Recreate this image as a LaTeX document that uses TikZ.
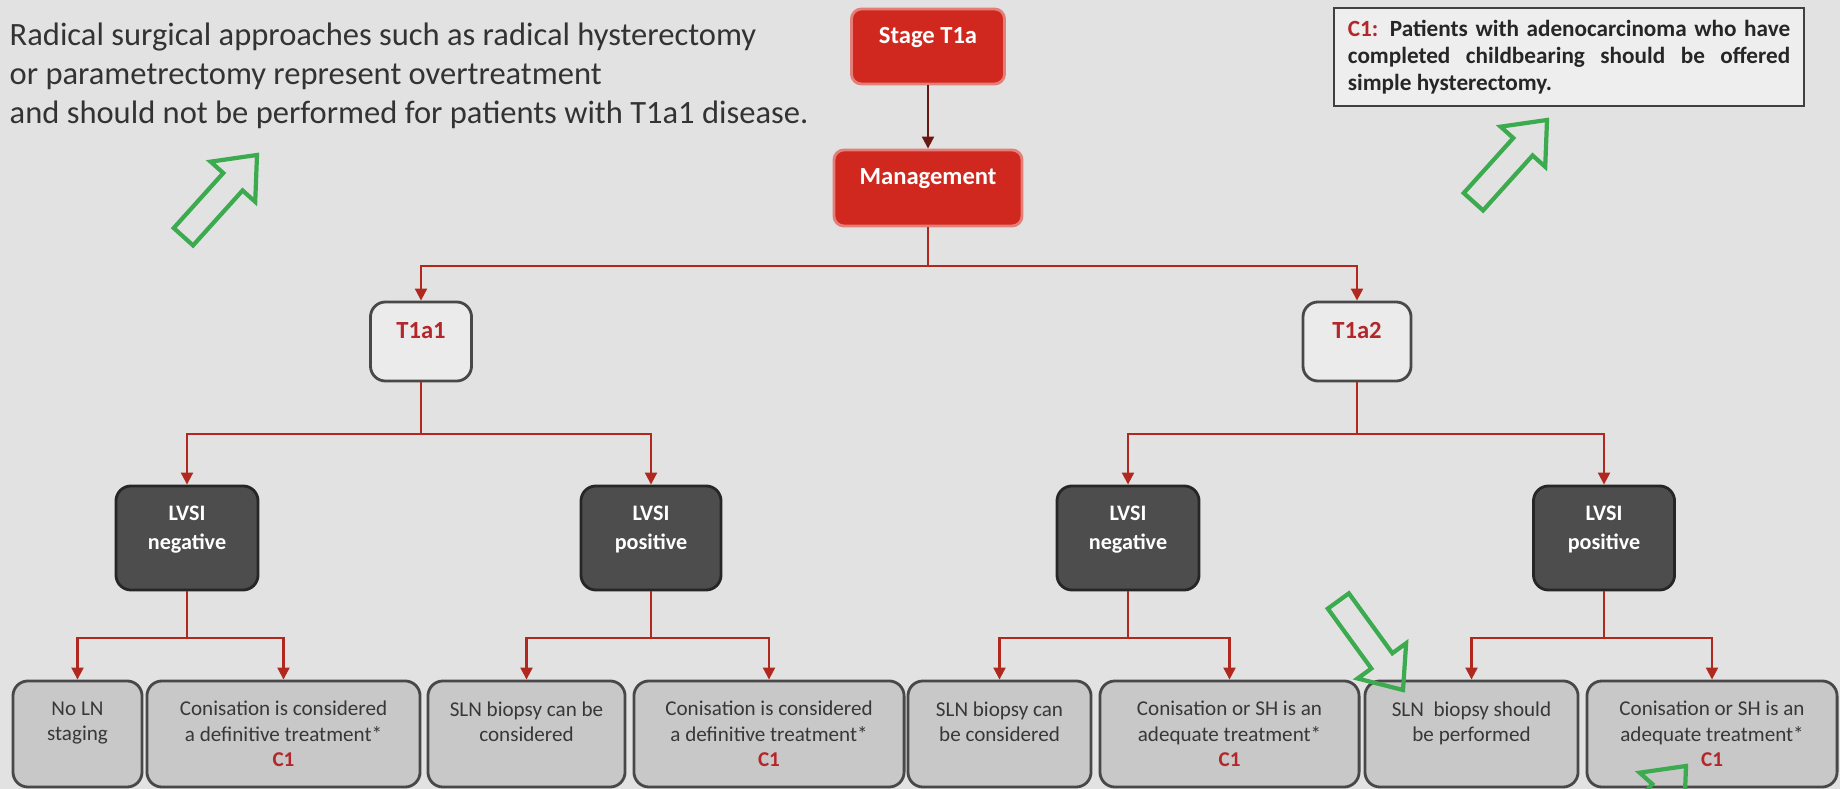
\documentclass[tikz,border=0pt]{standalone}
\usepackage{fontspec}
\setmainfont{Carlito}
\usepackage{xcolor}
\usetikzlibrary{arrows.meta}

\definecolor{slidebg}{HTML}{E2E2E2}
\definecolor{stagered}{HTML}{D0281E}
\definecolor{linkred}{HTML}{B0281E}
\definecolor{labelred}{HTML}{B3262A}
\definecolor{lvsigray}{HTML}{4D4D4D}
\definecolor{optiongray}{HTML}{C8C8C8}
\definecolor{edgegray}{HTML}{484848}
\definecolor{textgray}{HTML}{383838}
\definecolor{markgreen}{HTML}{3CAA4E}

\tikzset{
  hollowarrow/.pic={
    \draw[markgreen, line width=1.2pt, line join=miter]
      (0,0) -- (-36,30) -- (-36,13) -- (-110,13) -- (-110,-13) -- (-36,-13) -- (-36,-30) -- cycle;
  }
}

\begin{document}
\begin{tikzpicture}[x=0.01cm, y=-0.01cm,
  box/.style={rounded corners=0.15cm, inner sep=0pt, align=center, line width=0.8pt},
  stagebox/.style={box, rounded corners=0.1cm, fill=stagered, draw=stagered!60!white, text=white,
    font=\fontsize{7}{8.4}\selectfont\bfseries, text depth=6.5pt},
  substagebox/.style={box, fill=slidebg!70!white, draw=edgegray, text=labelred,
    font=\fontsize{7}{8.4}\selectfont\bfseries, text depth=6.5pt},
  lvsibox/.style={box, fill=lvsigray, draw=black!85, text=white,
    font=\fontsize{6.3}{8.2}\selectfont\bfseries, text depth=5.8pt, minimum height=1.04cm},
  optionbox/.style={box, fill=optiongray, draw=edgegray, text=textgray,
    font=\fontsize{6}{7.2}\selectfont, minimum height=1.06cm},
  shortopt/.style={optionbox, text depth=7.2pt},
  link/.style={draw=linkred, line width=0.6pt},
  arrowlink/.style={link, -{Triangle[width=3.4pt,length=3.4pt]}}
]
  \useasboundingbox (0,0) rectangle (1840,789);
  \fill[slidebg] (0,0) rectangle (1840,789);

  % remark and note
  \node[anchor=north west, align=left, inner sep=0pt, text=black!80,
    font=\fontsize{9.25}{11.1}\selectfont] (remark) at (9,22)
    {Radical surgical approaches such as radical hysterectomy\\
     or parametrectomy represent overtreatment\\
     and should not be performed for patients with T1a1 disease.};
  \node[box, rounded corners=0pt, fill=slidebg!60!white, draw=black!75, line width=0.6pt,
    text width=4.42cm, align=justify, inner xsep=0.14cm, minimum height=0.98cm,
    font=\fontsize{6.6}{7.7}\selectfont\bfseries, text=black!85] (note) at (1569,57)
    {\textcolor{labelred}{C1:} Patients with adenocarcinoma who have\linebreak
     completed childbearing should be offered\linebreak simple hysterectomy.};

  % stage and management
  \node[stagebox, minimum width=1.53cm, minimum height=0.75cm] (stage) at (928,46.5) {Stage T1a};
  \node[stagebox, minimum width=1.88cm, minimum height=0.76cm] (mgmt) at (928,188) {Management};

  % substages
  \node[substagebox, minimum width=1.01cm, minimum height=0.79cm] (t1a1) at (421,341.5) {T1a1};
  \node[substagebox, minimum width=1.08cm, minimum height=0.79cm] (t1a2) at (1357,341.5) {T1a2};

  % LVSI status
  \node[lvsibox, minimum width=1.42cm] (neg1) at (187,538) {LVSI\\negative};
  \node[lvsibox, minimum width=1.40cm] (pos1) at (651,538) {LVSI\\positive};
  \node[lvsibox, minimum width=1.42cm] (neg2) at (1128,538) {LVSI\\negative};
  \node[lvsibox, minimum width=1.41cm] (pos2) at (1604,538) {LVSI\\positive};

  % options
  \node[shortopt, minimum width=1.29cm] (noln) at (77.5,734) {No LN\\staging};
  \node[optionbox, minimum width=2.73cm] (cone1) at (283.5,734)
    {Conisation is considered\\a definitive treatment*\\\textcolor{labelred}{\bfseries C1}};
  \node[shortopt, minimum width=1.97cm] (sln1) at (526.5,734) {SLN biopsy can be\\considered};
  \node[optionbox, minimum width=2.70cm] (cone2) at (769,734)
    {Conisation is considered\\a definitive treatment*\\\textcolor{labelred}{\bfseries C1}};
  \node[shortopt, minimum width=1.83cm] (sln2) at (999.5,734) {SLN biopsy can\\be considered};
  \node[optionbox, minimum width=2.59cm] (cone3) at (1229.5,734)
    {Conisation or SH is an\\adequate treatment*\\\textcolor{labelred}{\bfseries C1}};
  \node[shortopt, minimum width=2.13cm] (sln3) at (1471.5,734) {SLN~ biopsy should\\be performed};
  \node[optionbox, minimum width=2.50cm] (cone4) at (1712,734)
    {Conisation or SH is an\\adequate treatment*\\\textcolor{labelred}{\bfseries C1}};

  % connectors
  \draw[arrowlink, draw=linkred!60!black] (stage) -- (mgmt);
  \draw[link] (mgmt.south) -- ++(0,39) coordinate (split0);
  \draw[arrowlink] (split0) -| (t1a1);
  \draw[arrowlink] (split0) -| (t1a2);
  \draw[link] (t1a1.south) -- ++(0,52) coordinate (split1);
  \draw[arrowlink] (split1) -| (neg1);
  \draw[arrowlink] (split1) -| (pos1);
  \draw[link] (t1a2.south) -- ++(0,52) coordinate (split2);
  \draw[arrowlink] (split2) -| (neg2);
  \draw[arrowlink] (split2) -| (pos2);
  \draw[link] (neg1.south) -- ++(0,47) coordinate (split3);
  \draw[arrowlink] (split3) -| (noln);
  \draw[arrowlink] (split3) -| (cone1);
  \draw[link] (pos1.south) -- ++(0,47) coordinate (split4);
  \draw[arrowlink] (split4) -| (sln1);
  \draw[arrowlink] (split4) -| (cone2);
  \draw[link] (neg2.south) -- ++(0,47) coordinate (split5);
  \draw[arrowlink] (split5) -| (sln2);
  \draw[arrowlink] (split5) -| (cone3);
  \draw[link] (pos2.south) -- ++(0,47) coordinate (split6);
  \draw[arrowlink] (split6) -| (sln3);
  \draw[arrowlink] (split6) -| (cone4);

  % green pointers
  \pic[rotate=48] at (257,155) {hollowarrow};
  \pic[rotate=48] at (1547,120) {hollowarrow};
  \pic[rotate=-54] at (1403,690) {hollowarrow};
  \begin{scope}
    \clip (0,0) rectangle (1840,789);
    \pic[rotate=48] at (1686,766) {hollowarrow};
  \end{scope}
\end{tikzpicture}
\end{document}
